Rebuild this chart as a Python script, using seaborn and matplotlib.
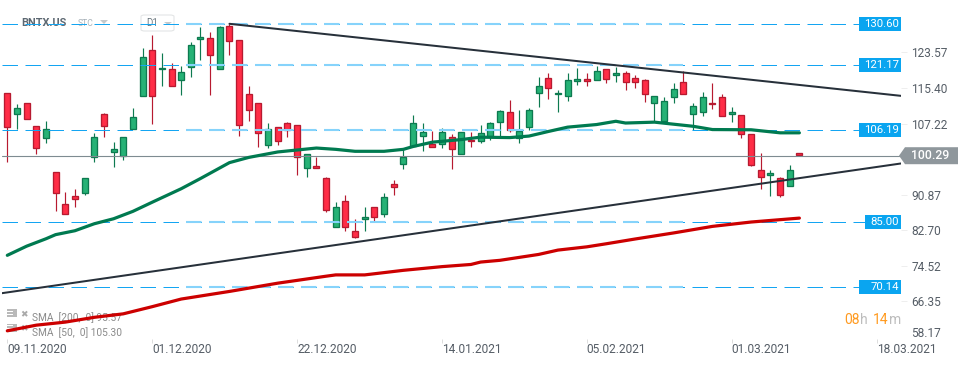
import numpy as np
import pandas as pd
import matplotlib
matplotlib.use("Agg")
import matplotlib.pyplot as plt
import seaborn as sns
from matplotlib.patches import Polygon, Rectangle, FancyBboxPatch
from matplotlib.transforms import ScaledTranslation

# daily candles
open_ = [114.6,109.9,112.5,107.1,104.3,96.6,89.3,91.1,91.7,100.0,109.8,101.15,100.2,106.4,113.9,124.6,120.1,120.3,117.8,120.7,127.1,
         127.35,120.3,130.15,126.9,114.4,112.5,102.7,106.8,107.75,107.3,97.5,98.0,95.2,83.8,89.8,82.9,85.7,88.4,87.0,93.9,
         98.3,102.5,104.9,103.0,103.0,104.6,100.6,103.9,103.65,104.8,108.0,110.3,104.3,106.8,114.8,118.2,114.4,113.9,117.55,118.0,
         117.8,120.3,118.9,119.4,118.2,117.8,112.3,108.2,113.7,117.3,109.8,110.3,112.5,113.7,109.8,109.6,105.25,97.05,95.9,95.2,93.4,100.9]
close = [106.8,111.2,108.7,102.0,106.4,91.7,87.0,90.4,95.2,104.6,107.2,101.8,104.6,109.1,123.0,114.1,120.5,116.2,119.6,125.75,127.6,
         123.5,129.85,126.7,107.3,110.9,105.5,106.4,103.65,106.2,100.0,100.7,97.5,87.9,88.4,84.0,81.7,86.1,86.3,90.7,93.2,
         100.0,107.75,105.7,102.4,105.7,101.8,105.7,103.6,105.5,107.75,110.5,106.1,105.9,110.7,116.2,115.95,114.8,117.8,118.0,117.55,
         119.8,118.0,119.4,117.3,117.3,114.4,113.9,112.8,115.7,114.4,111.6,113.7,112.1,109.35,110.3,105.25,98.2,95.45,96.4,91.35,97.05,100.4]
high = [114.8,112.1,112.5,107.1,108.3,96.6,92.0,92.6,95.2,105.5,110.0,103.4,104.6,111.2,125.1,128.1,123.8,121.65,121.0,126.5,129.9,
        128.8,130.15,130.6,126.9,116.2,112.5,107.75,106.8,108.05,107.3,100.7,100.1,95.45,89.6,91.2,85.7,88.5,88.4,91.65,94.8,
        101.9,109.6,107.8,106.0,106.6,105.25,105.7,105.7,107.4,108.05,110.9,113.1,110.9,111.2,118.3,119.4,115.5,119.4,120.35,119.2,
        121.0,120.3,120.6,119.8,118.9,118.0,114.1,113.7,116.9,119.8,112.3,114.9,117.1,114.4,111.4,109.6,105.25,100.9,97.05,95.45,98.2,100.9]
low = [98.9,106.5,108.7,100.6,103.3,87.5,87.0,88.5,91.3,98.9,104.5,97.7,99.4,106.4,113.9,107.6,116.25,116.2,114.3,118.4,122.2,
       114.3,120.3,123.4,104.9,108.35,102.4,102.0,102.65,104.7,95.8,95.5,97.5,87.4,83.8,82.9,81.4,83.1,85.1,86.25,91.3,
       97.2,102.5,101.3,102.2,102.0,97.2,100.6,102.4,103.1,104.0,104.8,105.8,103.1,106.1,111.5,113.4,110.4,112.9,116.55,116.3,
       117.8,117.0,117.2,115.4,115.9,112.7,108.0,107.8,112.5,114.4,106.2,109.3,111.1,109.35,108.1,104.3,97.9,92.7,91.1,90.9,93.4,100.4]

# moving averages, read at these candle numbers
sma50_idx = [0,2,4,5,7,9,11,13,15,18,20,23,25,28,32,34,36,39,41,42,44,47,49,52,54,56,58,61,63,64,67,71,73,77,80,82]
sma50_val = [77.4,79.5,81.2,82.15,83.05,84.65,85.8,87.5,89.6,92.7,95.05,98.7,99.9,101.15,102.05,101.75,101.3,101.3,101.75,102.4,103.4,104.0,
             104.55,104.45,104.8,105.85,106.85,107.45,108.2,107.8,108.0,107.05,106.3,106.25,105.55,105.55]
sma200_idx = [0,3,6,9,12,15,18,23,28,33,34,37,41,45,48,49,51,55,57,60,62,65,67,69,73,77,82]
sma200_val = [60.05,61.35,62.05,63.15,63.95,65.6,67.35,69.1,71.0,72.6,72.9,72.9,73.95,74.8,75.3,75.85,76.25,77.6,78.6,79.35,80.05,81.15,81.85,82.55,84.05,85.05,85.95]

# trend lines and levels
trend_up_idx = [23, 92.5]
trend_up_val = [130.6, 114.05]
trend_low_idx = [-0.55, 92.5]
trend_low_val = [68.7, 98.5]
levels = [130.60, 121.17, 106.19, 85.00, 70.14]
last_price = 100.29

# axes labels
date_pos = [0, 15, 30, 45, 60, 75, 90]
date_labels = ["09.11.2020", "01.12.2020", "22.12.2020", "14.01.2021", "05.02.2021", "01.03.2021", "18.03.2021"]
price_ticks = [123.57, 115.40, 107.22, 90.87, 82.70, 74.52, 66.35, 58.17]

GREEN, GREEN_EDGE = "#26b276", "#0d7a50"
RED, RED_EDGE = "#ff2d46", "#b71a30"
BLUE, BLUE_LIGHT = "#14a5f2", "#86d3fb"
W, H = 970, 365

sns.set_theme(style="white")
plt.rcParams["font.family"] = ["Roboto", "DejaVu Sans"]

fig = plt.figure(figsize=(W / 100, H / 100), dpi=100, facecolor="white")
ax = fig.add_axes([2 / W, 1 - 339 / H, 899 / W, 339 / H])


def px(x, y):
    return x / W, 1 - y / H


def label(x, y, s, **kw):
    kw.setdefault("va", "center")
    kw.setdefault("ha", "left")
    return ax.text(*px(x, y), s, transform=fig.transFigure, clip_on=False, **kw)


candles = pd.DataFrame({"open": open_, "high": high, "low": low, "close": close})
candles["idx"] = candles.index
candles["up"] = candles["close"] >= candles["open"]
fill = candles["up"].map({True: GREEN, False: RED})
edge = candles["up"].map({True: GREEN_EDGE, False: RED_EDGE})

ax.vlines(candles["idx"], candles["low"], candles["high"], colors=edge, lw=0.85, zorder=2)
ax.bar(candles["idx"], (candles["close"] - candles["open"]).abs(), bottom=candles[["open", "close"]].min(axis=1),
       width=0.62, color=fill, edgecolor=edge, linewidth=0.95, zorder=3)

# dashed levels, paler and wider through the middle of the chart
for lv in levels:
    ax.plot([-0.55, 92.5], [lv, lv], color=BLUE, lw=0.72, ls=(0, (15.5, 7.5)), zorder=4)
    pale, = ax.plot([-0.55, 92.5], [lv, lv], color=BLUE_LIGHT, lw=1.5, ls=(0, (7.44, 3.6)), zorder=4.1)
    pale.set_clip_path(Rectangle((18, 50), 52, 90, transform=ax.transData))

ax.axhline(last_price, color="#7e8b91", lw=0.8, zorder=4.5)

sma50 = pd.DataFrame({"idx": sma50_idx, "value": sma50_val})
sma200 = pd.DataFrame({"idx": sma200_idx, "value": sma200_val})
sns.lineplot(data=sma50, x="idx", y="value", color="#007a50", lw=2.3, ax=ax, zorder=5)
sns.lineplot(data=sma200, x="idx", y="value", color="#cc0000", lw=2.3, ax=ax, zorder=5)
sns.lineplot(x=trend_up_idx, y=trend_up_val, color="#27303a", lw=1.45, ax=ax, zorder=6)
sns.lineplot(x=trend_low_idx, y=trend_low_val, color="#27303a", lw=1.45, ax=ax, zorder=6)

ax.set_xlim(-0.549, 92.52)
ax.set_ylim(58.85, 136.07)
ax.set_xlabel("")
ax.set_ylabel("")
sns.despine(ax=ax, left=True, bottom=True, right=True, top=True)
ax.patch.set_alpha(0)

ax.set_xticks(date_pos)
ax.set_xticklabels(date_labels, ha="left", fontsize=8.6, color="#555d66")
ax.tick_params(axis="x", bottom=True, length=3, width=0.7, color="#dddddd", pad=0)
ax.yaxis.tick_right()
ax.set_yticks(price_ticks)
ax.set_yticklabels([f"{t:.2f}" for t in price_ticks], fontsize=8.6, color="#555d66")
ax.tick_params(axis="y", right=True, length=4.3, width=0.7, color="#eeeeee", pad=3)

# tick labels sit a little above the scale, the lowest one more so
for tick, val in zip(ax.yaxis.get_major_ticks(), price_ticks):
    up = 7 if val == price_ticks[-1] else 2
    shift = ScaledTranslation(0, up / 100, fig.dpi_scale_trans)
    tick.label2.set_transform(tick.label2.get_transform() + shift)
    tick.tick2line.set_transform(tick.tick2line.get_transform() + shift)
ax.yaxis.get_major_ticks()[-1].tick2line.set_visible(False)

# price boxes
for lv in levels:
    box_left = 865 if lv == 85.00 else 859
    y = H - ax.transData.transform((0, lv))[1]
    ax.add_patch(Rectangle(px(box_left, y + 7), (901 - box_left) / W, 14 / H, transform=fig.transFigure,
                           facecolor="#0aa5f0", edgecolor="none", clip_on=False, zorder=9))
    label(899, y + 0.2, f"{lv:.2f}", ha="right", color="white", fontsize=8.2, zorder=10)

y_last = H - ax.transData.transform((0, last_price))[1]
ax.add_patch(Polygon([px(899, y_last), px(905, y_last - 8.5), px(958, y_last - 8.5), px(958, y_last + 8.5), px(905, y_last + 8.5)],
                     closed=True, transform=fig.transFigure, facecolor="#8f979c", edgecolor="none", clip_on=False, zorder=9))
label(911, y_last, f"{last_price:.2f}", color="white", fontsize=8.8, fontweight="medium", zorder=10)

# header
label(21, 23, "BNTX.US", color="#5d6872", fontsize=7.8, fontweight="bold", zorder=3)
label(78, 24, "STC", color="#a9b3ba", fontsize=6.2, zorder=3)
ax.add_patch(Polygon([px(100, 20), px(108, 20), px(104, 24)], transform=fig.transFigure, facecolor="#c4c9cc", edgecolor="none", clip_on=False, zorder=3))
ax.add_patch(FancyBboxPatch(px(141, 31), 33 / W, 16 / H, boxstyle="round,pad=0,rounding_size=0.004", transform=fig.transFigure,
                            facecolor="none", edgecolor="#e3e5e6", lw=0.8, clip_on=False, zorder=3))
label(146, 23.5, "D1", color="#6f7a82", fontsize=7, zorder=3)
ax.add_patch(Polygon([px(164, 22), px(172, 22), px(168, 25)], transform=fig.transFigure, facecolor="#c4c9cc", edgecolor="none", clip_on=False, zorder=3))

# indicator legend, the red average runs over it
for y, txt in [(318, "SMA  [200,  0] 95.57"), (332.5, "SMA  [50,  0] 105.30")]:
    ax.add_patch(Rectangle(px(7, y - 1), 10 / W, 8 / H, transform=fig.transFigure, facecolor="#b9b9b9", edgecolor="none", clip_on=False, zorder=1))
    for stripe in (y - 6.5, y - 3.5):
        ax.add_patch(Rectangle(px(7, stripe), 6 / W, 1 / H, transform=fig.transFigure, facecolor="white", edgecolor="none", clip_on=False, zorder=1.1))
    label(20.5, y - 3.5, "\u2716", color="#aaaaaa", fontsize=6.5, family="DejaVu Sans", zorder=1)
    label(32, y, txt, color="#8a8a8a", fontsize=7.3, zorder=1)

# countdown
label(844, 320, "08", color="#ff9a1f", fontsize=10, zorder=10)
label(860, 320, "h", color="#bdbdbd", fontsize=10, zorder=10)
label(873, 320, "14", color="#ff9a1f", fontsize=10, zorder=10)
label(889, 320, "m", color="#bdbdbd", fontsize=10, zorder=10)

fig.savefig("out.png", dpi=100, facecolor="white")
